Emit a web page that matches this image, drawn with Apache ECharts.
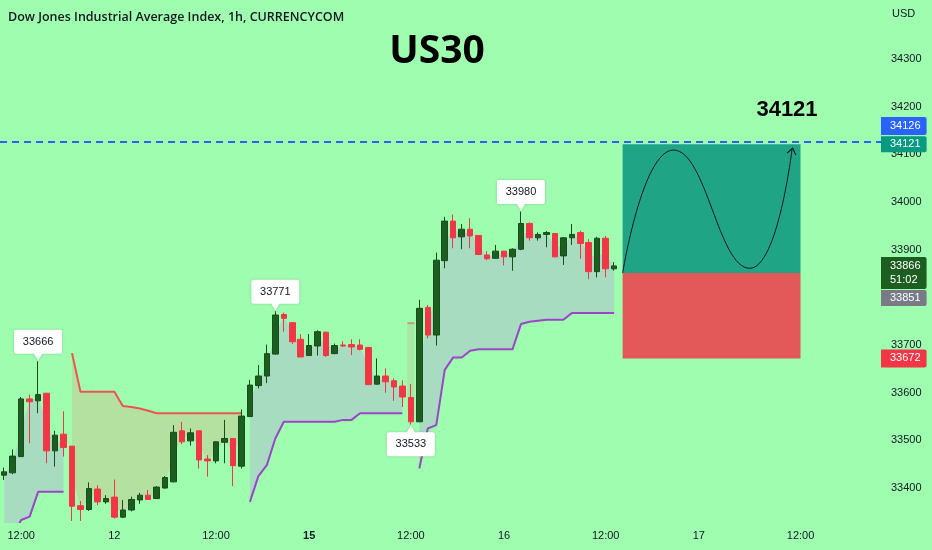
<!DOCTYPE html>
<html>
<head>
<meta charset="utf-8">
<title>US30</title>
<script src="https://cdn.jsdelivr.net/npm/echarts@6/dist/echarts.min.js"></script>
<style>
html, body { margin: 0; padding: 0; background: #9ffdb0; }
#chart { width: 932px; height: 550px; }
</style>
</head>
<body>
<div id="chart"></div>
<script>
// K线 开/收/低/高 (1h)
var opens  = [33427,33432,33466,33587,33583,33599,33478,33513,33488,33363,33355,33398,33371,33381,33339,33354,33375,33385,33378,33400,
              33413,33520,33499,33520,33461,33457,33496,33504,33446,33550,33615,33635,33681,33764,33747,33712,33678,33698,33727,33682,
              33700,33701,33700,33695,33618,33635,33625,33614,33590,33539,33779,33721,33877,33960,33927,33943,33930,33889,33882,33897,
              33885,33901,33955,33925,33932,33934,33887,33925,33936,33915,33854,33924,33860];
var closes = [33434,33467,33587,33581,33596,33478,33511,33485,33362,33355,33399,33371,33378,33339,33354,33376,33385,33376,33402,33422,
              33517,33497,33516,33459,33457,33497,33504,33447,33551,33616,33635,33682,33763,33756,33707,33675,33699,33728,33678,33699,
              33698,33696,33691,33617,33635,33623,33612,33591,33539,33777,33721,33878,33960,33925,33943,33929,33890,33881,33897,33885,
              33901,33955,33925,33932,33936,33885,33925,33932,33913,33854,33924,33860,33866];
var lows   = [33417,33429,33465,33494,33557,33452,33445,33466,33331,33331,33352,33364,33367,33336,33337,33351,33367,33376,33377,33399,
              33412,33492,33489,33441,33424,33452,33452,33404,33441,33549,33609,33620,33680,33728,33702,33675,33677,33678,33675,33681,
              33696,33679,33689,33616,33617,33600,33583,33570,33533,33538,33714,33699,33861,33903,33901,33903,33889,33878,33881,33867,
              33856,33899,33919,33919,33905,33884,33868,33910,33881,33838,33842,33842,33856];
var highs  = [33443,33481,33591,33596,33666,33599,33520,33561,33488,33373,33412,33406,33385,33418,33375,33382,33390,33396,33404,33425,
              33532,33539,33525,33521,33469,33498,33543,33505,33565,33627,33658,33701,33771,33768,33748,33723,33723,33731,33728,33703,
              33708,33712,33712,33696,33672,33651,33630,33626,33618,33795,33784,33894,33969,33974,33954,33966,33930,33897,33910,33897,
              33903,33980,33957,33936,33939,33935,33926,33954,33940,33922,33927,33929,33874];

// Supertrend 上轨(红) / 下轨(紫)
var trendUp = [33280,33300,33333,33340,33392,33392,33392,33392,
               null,null,null,null,null,null,null,null,null,null,null,null,null,null,null,null,null,null,null,null,null,
               33371,33425,33448,33504,33539,33539,33539,33539,33539,33539,33539,33543,33543,33557,33557,33557,33557,33557,33557,
               null,
               33441,33525,33532,33648,33674,33674,33688,33691,33691,33691,33691,33691,33744,33749,33751,33753,33753,33753,
               33767,33767,33767,33767,33767,33767];
var trendDown = [null,null,null,null,null,null,null,null,
               33683,33602,33602,33602,33602,33602,33572,33570,33567,33562,33557,33557,33557,33557,33557,33557,33557,33557,33557,33557,33557,
               null,null,null,null,null,null,null,null,null,null,null,null,null,null,null,null,null,null,null,
               33746,
               null,null,null,null,null,null,null,null,null,null,null,null,null,null,null,null,null,null,null,null,null,null,null,null];

// 时间轴
var barCount = 104;
var dateTickIdx  = [2, 13, 25, 36, 48, 59, 71, 82, 94];
var dateTickText = ['12:00', '12', '12:00', '15', '12:00', '16', '12:00', '17', '12:00'];
var boldTicks = ['15'];

// 价格轴
var priceTicks = [33400, 33500, 33600, 33700, 33800, 33900, 34000, 34100, 34200, 34300];

// 高低点标注
var swingIdx   = [4, 32, 48, 61];
var swingValue = [33666, 33771, 33533, 33980];
var swingSide  = ['top', 'top', 'bottom', 'top'];

// 多头持仓框 + 水平线
var linePrice = 34126;
var targetPrice = 34121;
var entryPrice = 33851;
var stopPrice = 33672;
var lastPrice = 33866;
var countdown = '51:02';
var boxFrom = 73, boxTo = 94;
var pathX = [73, 79, 88, 93];
var pathY = [33851, 34109, 33861, 34111];

var cats = [];
for (var i = 0; i < barCount; i++) cats.push(String(i));

var candleData = opens.map(function (o, i) { return [o, closes[i], lows[i], highs[i]]; });
var mids = opens.map(function (o, i) { return (o + closes[i]) / 2; });

function seg(line, fn) {
    return line.map(function (v, i) { return v == null ? null : fn(v, i); });
}
var upBase = seg(trendUp, function (v) { return v; });
var upFill = seg(trendUp, function (v, i) { return mids[i] - v; });
var dnBase = seg(trendDown, function (v, i) { return mids[i]; });
var dnFill = seg(trendDown, function (v, i) { return v - mids[i]; });

// 孤立的红线点(只一根K线)
function isolated(i) {
    return trendDown[i] != null && trendDown[i - 1] == null && trendDown[i + 1] == null;
}
var colBase = trendDown.map(function (v, i) { return isolated(i) ? mids[i] : null; });
var colFill = trendDown.map(function (v, i) { return isolated(i) ? v - mids[i] : null; });
var redLine = trendDown.map(function (v, i) {
    if (isolated(i)) return { value: v, symbol: 'rect', symbolSize: [7, 2], itemStyle: { color: 'rgba(239,83,80,0.55)' } };
    return v;
});

var calloutDown = 'path://M2,0 H46 Q48,0 48,2 V22 Q48,24 46,24 H28 L24,31 L20,24 H2 Q0,24 0,22 V2 Q0,0 2,0 Z';
var calloutUp = 'path://M2,7 H20 L24,0 L28,7 H46 Q48,7 48,9 V29 Q48,31 46,31 H2 Q0,31 0,29 V9 Q0,7 2,7 Z';

var swingPoints = swingIdx.map(function (idx, k) {
    var top = swingSide[k] === 'top';
    return {
        coord: [String(idx), swingValue[k]],
        value: swingValue[k],
        symbol: top ? calloutDown : calloutUp,
        symbolSize: [48, 31],
        symbolOffset: [0, top ? -16 : 16],
        label: { offset: [0, top ? -3.5 : 3.5] }
    };
});

var pathData = pathX.map(function (x, k) {
    if (k === pathX.length - 1) {
        return {
            value: [x, pathY[k]],
            symbol: 'path://M0,7 L5,0 L10,7',
            symbolSize: [9, 6],
            symbolRotate: -12,
            symbolOffset: [0, 2],
            itemStyle: { color: 'none', borderColor: '#131722', borderWidth: 1 }
        };
    }
    return [x, pathY[k]];
});

function priceTag(value, text, bg, offsetY, padV) {
    return {
        yAxis: value,
        lineStyle: { color: 'rgba(0,0,0,0)', width: 0 },
        label: {
            show: true,
            position: 'end',
            distance: 0,
            formatter: text,
            color: '#ffffff',
            backgroundColor: bg,
            fontSize: 11,
            fontFamily: 'Liberation Sans',
            lineHeight: 14,
            padding: [padV, 6, padV, 9],
            borderRadius: [0, 2, 2, 0],
            offset: [0, offsetY]
        }
    };
}

var dashedLine = priceTag(linePrice, String(linePrice), '#2962ff', -16, 2);
dashedLine.lineStyle = { color: '#2962ff', type: [7, 5], width: 2 };

var chart = echarts.init(document.getElementById('chart'));
var yMin = 33328.8, yMax = 34423.8;

var option = {
    backgroundColor: '#9ffdb0',
    animation: false,
    grid: { left: -2.5, right: 51, top: 0, bottom: 28 },
    graphic: [
        { type: 'text', x: 8, y: 17, style: { text: 'Dow Jones Industrial Average Index, 1h, CURRENCYCOM', fill: '#131722', font: '600 12.5px "Open Sans"', verticalAlign: 'middle' } },
        { type: 'text', x: 437, y: 52, style: { text: 'US30', fill: '#000000', font: 'bold 39px "Open Sans"', align: 'center', verticalAlign: 'middle' } },
        { type: 'text', x: 787, y: 110, style: { text: String(targetPrice), fill: '#000000', font: 'bold 22px "Liberation Sans"', align: 'center', verticalAlign: 'middle' } },
        { type: 'text', x: 892, y: 14, style: { text: 'USD', fill: '#131722', font: '11px "Liberation Sans"', verticalAlign: 'middle' } }
    ],
    xAxis: [{
        type: 'category',
        data: cats,
        boundaryGap: true,
        axisLine: { show: false },
        axisTick: { show: false },
        splitLine: { show: false },
        axisLabel: {
            margin: 8,
            color: '#131722',
            fontSize: 11,
            fontFamily: 'Liberation Sans',
            interval: function (idx) { return dateTickIdx.indexOf(idx) >= 0; },
            formatter: function (v, idx) {
                var k = dateTickIdx.indexOf(idx);
                if (k < 0) return '';
                var t = dateTickText[k];
                return boldTicks.indexOf(t) >= 0 ? '{b|' + t + '}' : t;
            },
            rich: { b: { fontWeight: 'bold', fontSize: 11, color: '#131722', fontFamily: 'Liberation Sans' } }
        }
    }, {
        type: 'value',
        min: -0.5,
        max: barCount - 0.5,
        show: false
    }],
    yAxis: {
        type: 'value',
        position: 'right',
        min: yMin,
        max: yMax,
        scale: true,
        axisLine: { show: false },
        axisTick: { show: false },
        splitLine: { show: false },
        axisLabel: {
            customValues: priceTicks,
            formatter: function (v) { return String(Math.round(v)); },
            margin: 10,
            color: '#131722',
            fontSize: 11,
            fontFamily: 'Liberation Sans'
        }
    },
    series: [
        { type: 'line', stack: 'up', z: 1, data: upBase, symbol: 'none', lineStyle: { opacity: 0 }, silent: true },
        { type: 'line', stack: 'up', z: 1, data: upFill, symbol: 'none', lineStyle: { opacity: 0 }, areaStyle: { color: '#a8dcc1', opacity: 1 }, silent: true },
        { type: 'line', stack: 'dn', z: 1, data: dnBase, symbol: 'none', lineStyle: { opacity: 0 }, silent: true },
        { type: 'line', stack: 'dn', z: 1, data: dnFill, symbol: 'none', lineStyle: { opacity: 0 }, areaStyle: { color: '#b5e1a0', opacity: 1 }, silent: true },
        { type: 'bar', stack: 'col', z: 1, data: colBase, barWidth: 7, itemStyle: { color: 'rgba(0,0,0,0)' }, silent: true },
        { type: 'bar', stack: 'col', z: 1, data: colFill, barWidth: 7, itemStyle: { color: 'rgba(239,83,80,0.12)' }, silent: true },
        { type: 'line', z: 3, data: trendUp, symbol: 'none', lineStyle: { color: '#9c45c8', width: 2 }, silent: true },
        { type: 'line', z: 3, data: redLine, symbol: 'none', showSymbol: true, showAllSymbol: true, lineStyle: { color: '#ef5350', width: 2 }, itemStyle: { color: '#ef5350' }, silent: true },
        {
            type: 'candlestick',
            z: 4,
            data: candleData,
            barWidth: 6,
            itemStyle: {
                color: '#1b5e20',
                color0: '#f23645',
                borderColor: '#184d1c',
                borderColor0: '#f23645',
                borderWidth: 1
            },
            markPoint: {
                data: swingPoints,
                itemStyle: { color: '#ffffff', shadowBlur: 3, shadowColor: 'rgba(0,0,0,0.18)' },
                label: { show: true, position: 'inside', color: '#131722', fontSize: 11, fontFamily: 'Liberation Sans' }
            },
            markLine: {
                symbol: ['none', 'none'],
                silent: true,
                data: [
                    dashedLine,
                    priceTag(targetPrice, String(targetPrice), '#089981', 0, 1),
                    priceTag(lastPrice, lastPrice + '\n' + countdown, '#1b5e20', 7, 2),
                    priceTag(entryPrice, String(entryPrice), '#787b86', 25, 1),
                    priceTag(stopPrice, String(stopPrice), '#f23645', 0, 2)
                ]
            }
        },
        {
            type: 'line',
            xAxisIndex: 1,
            data: pathData,
            smooth: 0.5,
            symbol: 'none',
            showSymbol: true,
            z: 6,
            lineStyle: { color: '#131722', width: 1 },
            markArea: {
                silent: true,
                data: [
                    [{ xAxis: boxFrom, yAxis: targetPrice, itemStyle: { color: '#1fa586' } }, { xAxis: boxTo, yAxis: entryPrice }],
                    [{ xAxis: boxFrom, yAxis: entryPrice, itemStyle: { color: '#e35858' } }, { xAxis: boxTo, yAxis: stopPrice }]
                ]
            }
        }
    ]
};
chart.setOption(option);
</script>
</body>
</html>
